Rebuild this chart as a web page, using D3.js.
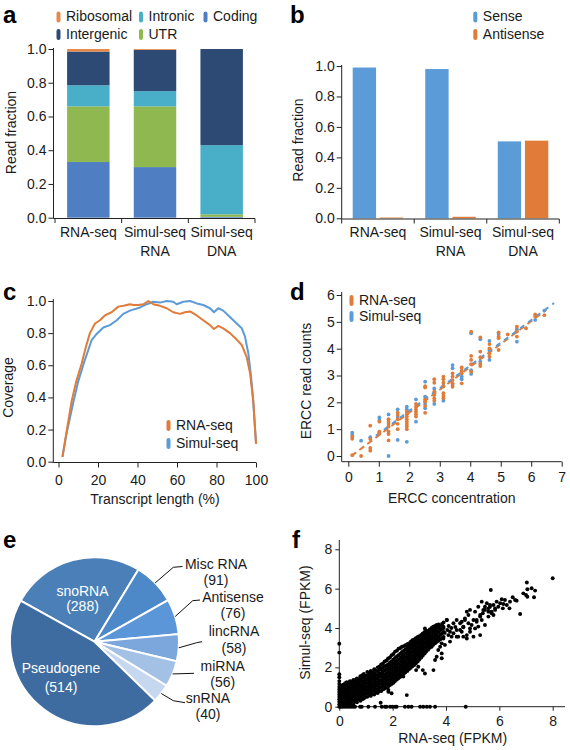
<!DOCTYPE html>
<html><head><meta charset="utf-8">
<script src="https://cdn.jsdelivr.net/npm/d3@7"></script>
<style>
body{margin:0;background:#fff}
svg{display:block}
text{font-family:"Liberation Sans",Arial,Helvetica,sans-serif;fill:#1a1a1a}
</style></head><body>
<svg id="c" width="570" height="750"></svg>
<script>
// ---------- DATA ----------
// panel a
const aCats=["RNA-seq","Simul-seq\nRNA","Simul-seq\nDNA"];
const aSeries=["Coding","UTR","Intronic","Intergenic","Ribosomal"];
const aCoding=[0.33,0.30,0.005];
const aUTR=[0.33,0.36,0.015];
const aIntronic=[0.125,0.09,0.41];
const aIntergenic=[0.20,0.245,0.57];
const aRibosomal=[0.015,0.005,0.0];
const aTicks=[0,0.2,0.4,0.6,0.8,1.0];
// panel b
const bCats=["RNA-seq","Simul-seq\nRNA","Simul-seq\nDNA"];
const bSeries=["Sense","Antisense"];
const bSense=[0.99,0.98,0.505];
const bAntisense=[0.005,0.01,0.51];
const bTicks=[0,0.2,0.4,0.6,0.8,1.0];
// panel c
const cRnaX=[2,4,6.7,9,11.7,14,15.9,18.5,21,23.5,26.9,30.3,33,36.2,38,40.4,43,45.5,48,51.4,54.8,58.1,61.5,64,66.6,70,73.3,76.7,78.7,80.9,83.4,86.8,90.2,92.8,95.3,97,98.6,100];
const cRnaY=[0.03,0.18,0.38,0.5,0.61,0.72,0.8,0.86,0.88,0.91,0.93,0.965,0.97,0.98,0.975,0.975,0.98,1.0,0.98,0.97,0.955,0.93,0.92,0.93,0.935,0.91,0.88,0.85,0.826,0.845,0.83,0.80,0.76,0.726,0.65,0.55,0.38,0.11];
const cSimX=[2,4,7.5,10,13,16.8,19.3,22.7,26,29.5,32.8,36.2,41.3,44.7,48,51.4,54.8,58.1,59.8,63.2,66.6,70,73.3,76.7,78.7,80.9,83.4,86.8,90.2,92.8,94.4,96.1,97.5,98.6,100];
const cSimY=[0.03,0.17,0.37,0.5,0.62,0.757,0.795,0.835,0.85,0.88,0.92,0.94,0.96,0.98,0.995,0.99,1.0,0.995,0.98,0.995,1.0,0.985,0.975,0.955,0.93,0.955,0.94,0.90,0.86,0.83,0.78,0.675,0.53,0.38,0.12];
const cXTicks=[0,20,40,60,80,100];
const cYTicks=[0,0.2,0.4,0.6,0.8,1.0];
// panel d
const dConc=[0.13,0.42,0.72,1.02,1.32,1.62,1.92,2.22,2.52,2.82,3.12,3.42,3.72,4.03,4.33,4.63,4.93,5.23,5.53,5.83,6.13,6.43];
const dRna=[[0.72,0.64,0.03],[0.0],[1.13,0.63,0.3,0.2],[1.28,0.91,0.84],[1.37,1.28,1.19,1.1,0.91,0.82,0.58],[1.62,1.53,1.37,1.2,1.0],[1.65,1.56,1.47,1.37,1.28,1.19,1.1,1.0],[1.94,1.84,1.74,1.65,1.56,1.47],[2.6,2.55,2.11,2.03,1.86,1.61],[2.86,2.73,2.4,2.27,2.15,2.06],[2.96,2.86,2.73,2.6,2.34,2.24,2.15],[3.08,2.96,2.83,2.71,2.58],[3.3,3.18,3.08,2.71],[4.63,3.73,3.58,3.42,3.14],[4.42,3.89,3.68,3.43,3.35],[4.17,4.01,3.83,3.7],[4.61,4.45,4.39,3.95],[4.53],[4.82,4.64,4.45],[4.76],[5.28,5.2],[5.25]];
const dSim=[[0.87,0.78],[0.57],[0.7],[1.44,1.34,0.87],[1.55,0.0],[1.74,1.45,0.6],[1.84,1.74,0.53],[2.11,1.28],[2.77,2.21,1.94,1.78],[2.52,1.94],[2.62,2.06],[3.39,3.27,2.65],[2.96,2.86],[4.57,3.2,3.06],[4.35,3.52],[4.29,3.95,3.58],[4.55],[],[4.72,4.26],[],[5.07],[5.42]];
const dFitRna=[[0.1,0.0],[6.5,5.45]];
const dFitSim=[[0.72,0.6],[6.75,5.7]];
const dXTicks=[0,1,2,3,4,5,6,7];
const dYTicks=[0,1,2,3,4,5,6];
// panel e
const eNames=["snoRNA","Misc RNA","Antisense","lincRNA","miRNA","snRNA","Pseudogene"];
const eValues=[288,91,76,58,56,40,514];
// panel f
const fCols=[
[0.00,[0.0,0.12,0.25,0.38,0.5,0.62,0.75,0.88,1.0,1.15,1.3,1.5,1.65,2.75,3.2]],
[0.06,[0.05,0.22,0.4,0.55,0.7,0.85,1.0]],
[0.15,[0.02,0.18,0.35,0.52,0.68,0.85,1.0,1.12]],
[0.28,[0.08,0.25,0.42,0.6,0.78,0.95,1.12,1.25]],
[0.40,[0.1,0.28,0.45,0.62,0.8,0.98,1.15,1.3]],
[0.53,[0.15,0.32,0.5,0.68,0.85,1.02,1.2,1.36]],
[0.66,[0.22,0.4,0.58,0.75,0.92,1.1,1.28,1.44]],
[0.79,[0.3,0.48,0.65,0.82,1.0,1.18,1.36,1.55]],
[0.92,[0.42,0.6,0.78,0.95,1.12,1.3,1.48,1.66]],
[1.05,[0.5,0.68,0.85,1.02,1.2,1.38,1.56,1.76]],
[1.18,[0.55,0.72,0.9,1.08,1.26,1.44,1.62,1.82]],
[1.31,[0.62,0.8,0.98,1.16,1.34,1.52,1.7,1.9]],
[1.44,[0.7,0.88,1.06,1.24,1.42,1.6,1.8,2.0]],
[1.57,[0.8,0.98,1.16,1.34,1.52,1.7,1.9,2.15]],
[1.70,[0.92,1.1,1.28,1.46,1.64,1.84,2.04,2.3]],
[1.83,[1.02,1.2,1.38,1.56,1.75,1.95,2.15,2.45]],
[1.96,[1.15,1.33,1.52,1.7,1.9,2.1,2.3,2.62]],
[2.09,[1.3,1.48,1.66,1.85,2.05,2.25,2.48,2.8]],
[2.22,[1.45,1.63,1.82,2.0,2.2,2.4,2.62,2.95]],
[2.35,[1.6,1.78,1.96,2.15,2.35,2.55,2.78,3.05]],
[2.48,[1.75,1.93,2.12,2.3,2.5,2.7,2.92,3.12]],
[2.61,[1.9,2.08,2.26,2.45,2.65,2.85,3.05,3.22]],
[2.74,[2.05,2.23,2.42,2.6,2.8,3.0,3.2,3.38]],
[2.87,[2.2,2.38,2.56,2.75,2.95,3.15,3.32,3.48]],
[3.00,[2.4,2.58,2.76,2.95,3.15,3.35,3.58]],
[3.13,[2.6,2.78,2.96,3.15,3.35,3.55,3.72]],
[3.26,[2.8,2.98,3.16,3.35,3.55,3.72,3.85]],
[3.39,[3.0,3.18,3.36,3.55,3.75,3.92]],
[3.52,[3.15,3.32,3.5,3.7,3.88,4.05]],
[3.65,[3.3,3.48,3.66,3.85,4.02,4.15]],
[3.78,[3.42,3.65,3.9,4.1]],
[3.91,[3.55,3.8,4.0,4.28]]];
const fCols2=[
[0.10,[0.1,0.28,0.45,0.62,0.78,0.95,1.08]],
[0.22,[0.05,0.22,0.4,0.56,0.72,0.9,1.05,1.2]],
[0.34,[0.18,0.35,0.52,0.7,0.88,1.05,1.22]],
[0.47,[0.2,0.38,0.56,0.74,0.92,1.1,1.28]],
[0.60,[0.28,0.45,0.62,0.8,0.98,1.15,1.35]],
[0.73,[0.35,0.52,0.7,0.88,1.05,1.22,1.4]],
[0.86,[0.38,0.56,0.74,0.9,1.08,1.26,1.45,1.6]],
[0.99,[0.5,0.68,0.86,1.04,1.22,1.4,1.58]],
[1.12,[0.6,0.78,0.96,1.14,1.32,1.5,1.7]],
[1.25,[0.65,0.84,1.02,1.2,1.38,1.56,1.75]],
[1.38,[0.72,0.9,1.08,1.26,1.44,1.62,1.82]],
[1.51,[0.8,0.98,1.16,1.34,1.52,1.7,1.9,2.05]],
[1.64,[0.88,1.06,1.24,1.42,1.6,1.8,2.0,2.2]],
[1.77,[0.98,1.16,1.34,1.52,1.7,1.9,2.1,2.35]],
[1.90,[1.1,1.28,1.46,1.64,1.84,2.04,2.25,2.5]],
[2.03,[1.22,1.4,1.58,1.78,1.98,2.18,2.4,2.68]],
[2.16,[1.38,1.56,1.74,1.94,2.14,2.34,2.56,2.85]],
[2.29,[1.52,1.7,1.88,2.08,2.28,2.48,2.7,2.98]],
[2.42,[1.68,1.86,2.04,2.24,2.44,2.64,2.85,3.08]],
[2.55,[1.82,2.0,2.18,2.38,2.58,2.78,2.98,3.18]],
[2.68,[1.98,2.16,2.34,2.54,2.74,2.94,3.12,3.3]],
[2.81,[2.12,2.3,2.48,2.68,2.88,3.08,3.26,3.42]],
[2.94,[2.3,2.48,2.66,2.86,3.06,3.26,3.45,3.55]],
[3.07,[2.5,2.68,2.86,3.06,3.26,3.46,3.65]],
[3.20,[2.7,2.88,3.06,3.26,3.46,3.64,3.8]],
[3.33,[2.9,3.08,3.26,3.46,3.66,3.85]],
[3.46,[3.08,3.25,3.44,3.62,3.82,4.0]],
[3.59,[3.22,3.4,3.58,3.78,3.96,4.1]],
[3.72,[3.35,3.55,3.78,4.0,4.18]],
[3.85,[3.5,3.72,3.95,4.2]]];
const fSparse=[[8.0,6.53],[7.03,6.31],[7.05,5.97],[7.21,6.02],[7.34,5.9],[6.9,5.76],[7.0,5.68],[7.05,5.59],[7.3,5.56],[6.78,4.71],[5.68,5.93],
[6.5,5.56],[6.59,5.42],[6.4,5.34],[6.65,5.39],[6.21,5.42],[6.09,5.46],[6.03,5.26],[6.15,5.22],[5.96,5.08],[5.84,5.0],[6.28,5.17],[6.38,5.0],[6.13,5.0],
[5.9,5.34],[5.78,5.17],[5.65,5.08],[5.84,4.92],[5.59,4.83],[5.46,4.92],[5.38,4.75],[5.59,4.58],[5.71,4.75],[5.28,4.58],[5.15,4.41],[5.34,4.41],[5.46,4.15],[5.21,4.07],[5.28,3.64],[5.09,3.98],[4.96,4.15],[4.84,4.24],[4.9,3.81],[4.65,4.07],[4.59,3.81],[4.71,4.41],[4.53,4.24],[4.4,3.9],[4.28,3.73],[4.46,3.56],[4.65,3.56],[4.78,3.47],[4.09,3.64],[4.03,4.41],[4.15,3.31],[4.21,3.56],[3.9,3.47],[3.84,3.22],[3.96,3.14],[3.78,3.05],[3.71,2.88],[3.84,2.71],[3.65,2.54],[3.21,3.98],[3.53,4.07],[3.46,3.05],[3.34,3.22],[3.59,2.37],[3.84,2.46],[3.53,1.86],[3.21,1.69],[3.13,1.86],[2.88,1.86],[2.96,2.03],[2.4,1.53],[2.53,0.59],[1.84,0.76],[1.55,0.2],[1.84,0.85],[1.96,0.68],
[5.34,5.34],[5.53,5.26],[5.65,5.17],[5.46,5.08],[5.59,5.0],[5.4,4.92],[5.71,4.83],[5.78,4.66],[5.28,4.66],[5.09,4.83],[5.21,5.08],[4.9,4.92],[4.78,4.83],[4.84,4.66],[4.71,4.49],[5.03,4.41],[5.15,4.32],[4.59,4.32],[4.4,4.41],[4.28,4.24],[4.03,4.41],[4.65,4.04],[4.53,3.9],[4.9,3.98],[5.03,3.56],[4.78,3.64],[4.4,3.56],[3.9,4.07],[3.78,3.9],[4.15,3.81],[4.1,4.1],[4.2,4.0],[4.35,4.05],[3.95,3.75],[4.05,3.9]];
const fZeroX=[0.05,0.12,0.2,0.28,0.36,0.44,0.52,0.59,0.78,0.84,1.09,1.34,1.59,1.71,1.77,1.9,1.99,2.09,2.15,2.46,2.59,2.71,3.03,3.15,3.28,3.4,3.59,4.74];
const fTicks=[0,2,4,6,8];

// ---------- STYLE ----------
const FS=14;
const INK="#1a1a1a";
const aColors={Coding:"#4f7fc2",UTR:"#8fb850",Intronic:"#49aec8",Intergenic:"#2c4a73",Ribosomal:"#e8894b"};
const bColors={Sense:"#5b9bd8",Antisense:"#e07b39"};
const ORANGE="#e07b39", BLUE="#5b9bd8";
const eColors=["#4a7fb8","#4d88c9","#5b97d8","#7ca7dc","#a3c0e5","#c6d8ef","#3e6ca1"];

const svg=d3.select("#c");
function letter(t,x,y){svg.append("text").attr("x",x).attr("y",y).attr("font-size",24).attr("font-weight","bold").style("fill","#000").text(t);}
function yTitle(t,x,cy){svg.append("text").attr("transform",`translate(${x},${cy}) rotate(-90)`).attr("text-anchor","middle").attr("font-size",FS).text(t);}
function xTitle(t,cx,y){svg.append("text").attr("x",cx).attr("y",y).attr("text-anchor","middle").attr("font-size",FS).text(t);}
function line(x1,y1,x2,y2){svg.append("line").attr("x1",x1).attr("y1",y1).attr("x2",x2).attr("y2",y2).attr("stroke","#222").attr("stroke-width",1);}
function styleAxis(g){g.attr("font-size",FS).attr("font-family",null).attr("color","#222");g.select(".domain").remove();g.selectAll(".tick text").style("fill",INK);}
function yAxis(scale,x,ticks,fmt){const g=svg.append("g").attr("transform",`translate(${x},0)`).call(d3.axisLeft(scale).tickValues(ticks).tickFormat(fmt).tickSize(5).tickPadding(2));styleAxis(g);return g;}
function xAxis(scale,y,ticks,fmt,ts,tp){const g=svg.append("g").attr("transform",`translate(0,${y})`).call(d3.axisBottom(scale).tickValues(ticks).tickFormat(fmt).tickSize(ts).tickPadding(tp));styleAxis(g);return g;}
function legendItem(x,y,color,label){
  svg.append("rect").attr("x",x).attr("y",y).attr("width",4).attr("height",11).attr("rx",2).attr("fill",color);
  svg.append("text").attr("x",x+9.5).attr("y",y+9.5).attr("font-size",FS).text(label);
}
function catLabels(scale,cats,y){
  cats.forEach(c=>{
    const lines=c.split("\n");
    const t=svg.append("text").attr("text-anchor","middle").attr("font-size",FS);
    lines.forEach((l,i)=>t.append("tspan").attr("x",scale(c)+scale.bandwidth()/2).attr("y",y+i*19.5).text(l));
  });
}
const f1=d3.format(".1f");

// ---------- PANEL A ----------
letter("a",3,23);
const aX=d3.scaleBand().domain(aCats).range([55,255]).padding(0);
const aY=d3.scaleLinear().domain([0,1]).range([217.7,49]);
const aRows=aCats.map((c,i)=>({cat:c,Coding:aCoding[i],UTR:aUTR[i],Intronic:aIntronic[i],Intergenic:aIntergenic[i],Ribosomal:aRibosomal[i]}));
const aStack=d3.stack().keys(aSeries)(aRows);
const aBW=aX.bandwidth()*0.637;
svg.append("g").selectAll("g").data(aStack).join("g").attr("fill",d=>aColors[d.key])
  .selectAll("rect").data(d=>d).join("rect")
  .attr("x",d=>aX(d.data.cat)+(aX.bandwidth()-aBW)/2).attr("width",aBW)
  .attr("y",d=>aY(d[1])).attr("height",d=>Math.max(0,aY(d[0])-aY(d[1])));
yAxis(aY,53.5,aTicks,f1);
line(53.5,aY(1)-1,53.5,218.5);
line(53.5,218.5,aX.range()[1],218.5);
aCats.concat([null]).forEach(c=>{const x=c?aX(c):aX.range()[1];line(x,218.5,x,223);});
catLabels(aX,aCats,236.5);
yTitle("Read fraction",15.5,132.5);
legendItem(56.5,11.5,aColors.Ribosomal,"Ribosomal");
legendItem(139,11.5,aColors.Intronic,"Intronic");
legendItem(203.5,11.5,aColors.Coding,"Coding");
legendItem(56.5,29,aColors.Intergenic,"Intergenic");
legendItem(139,29,aColors.UTR,"UTR");

// ---------- PANEL B ----------
letter("b",290,23);
const bX=d3.scaleBand().domain(bCats).range([341.7,559.3]).padding(0);
const bInner=d3.scaleBand().domain(bSeries).range([11,bX.bandwidth()-11]).paddingInner(0.14);
const bY=d3.scaleLinear().domain([0,1]).range([218.3,66]);
const bRows=bCats.map((c,i)=>({cat:c,Sense:bSense[i],Antisense:bAntisense[i]}));
svg.append("g").selectAll("g").data(bRows).join("g").attr("transform",d=>`translate(${bX(d.cat)},0)`)
  .selectAll("rect").data(d=>bSeries.map(k=>({k,v:d[k]}))).join("rect")
  .attr("x",d=>bInner(d.k)).attr("width",bInner.bandwidth())
  .attr("y",d=>bY(d.v)).attr("height",d=>bY(0)-bY(d.v)).attr("fill",d=>bColors[d.k]);
yAxis(bY,341.7,bTicks,f1);
line(341.7,bY(1)-1,341.7,219);
line(341.7,219,bX.range()[1],219);
bCats.concat([null]).forEach(c=>{const x=c?bX(c):bX.range()[1];line(x,219,x,223.5);});
catLabels(bX,bCats,236.5);
yTitle("Read fraction",303,140);
legendItem(473.3,11.5,bColors.Sense,"Sense");
legendItem(473.3,29,bColors.Antisense,"Antisense");

// ---------- PANEL C ----------
letter("c",3,300);
const cX=d3.scaleLinear().domain([0,100]).range([58.5,256]);
const cY=d3.scaleLinear().domain([0,1]).range([461.7,301]);
yAxis(cY,53.3,cYTicks,f1);
xAxis(cX,462.5,cXTicks,d3.format("d"),5,7.5);
line(53.3,299,53.3,462.5);
line(53.3,462.5,256,462.5);
const cLine=d3.line().x(d=>cX(d[0])).y(d=>cY(d[1])).curve(d3.curveLinear);
svg.append("path").datum(cSimX.map((x,i)=>[x,cSimY[i]])).attr("d",cLine).attr("fill","none").attr("stroke",BLUE).attr("stroke-width",2).attr("stroke-linejoin","round");
svg.append("path").datum(cRnaX.map((x,i)=>[x,cRnaY[i]])).attr("d",cLine).attr("fill","none").attr("stroke",ORANGE).attr("stroke-width",2).attr("stroke-linejoin","round");
yTitle("Coverage",13,387.5);
xTitle("Transcript length (%)",155,503.5);
legendItem(166.5,420,ORANGE,"RNA-seq");
legendItem(166.5,438,BLUE,"Simul-seq");

// ---------- PANEL D ----------
letter("d",290,300);
const dX=d3.scaleLinear().domain([0,7]).range([348.3,561.7]);
const dY=d3.scaleLinear().domain([0,6]).range([456,295]);
yAxis(dY,341.7,dYTicks,d3.format("d"));
xAxis(dX,461.7,dXTicks,d3.format("d"),5,5.5);
line(341.7,292,341.7,461.7);
line(341.7,461.7,561.7,461.7);
const dLine=d3.line().x(d=>dX(d[0])).y(d=>dY(d[1]));
svg.append("path").datum(dFitRna).attr("d",dLine).attr("stroke",ORANGE).attr("stroke-width",2).attr("stroke-dasharray","6,4").attr("fill","none");
svg.append("path").datum(dFitSim).attr("d",dLine).attr("stroke",BLUE).attr("stroke-width",2).attr("stroke-dasharray","5,5").attr("stroke-dashoffset",3).attr("fill","none");
const dSimPts=[];dSim.forEach((ys,i)=>ys.forEach(y=>dSimPts.push([dConc[i],y])));
const dRnaPts=[];dRna.forEach((ys,i)=>ys.forEach(y=>dRnaPts.push([dConc[i],y])));
svg.append("g").selectAll("circle").data(dSimPts).join("circle").attr("cx",d=>dX(d[0])).attr("cy",d=>dY(d[1])).attr("r",1.9).attr("fill",BLUE);
svg.append("g").selectAll("circle").data(dRnaPts).join("circle").attr("cx",d=>dX(d[0])).attr("cy",d=>dY(d[1])).attr("r",1.9).attr("fill",ORANGE);
yTitle("ERCC read counts",311,381);
xTitle("ERCC concentration",451.7,503);
legendItem(349.5,295,ORANGE,"RNA-seq");
legendItem(349.5,311,BLUE,"Simul-seq");

// ---------- PANEL E ----------
letter("e",3,548);
const eCx=94.5, eCy=641.7, eR=84.5;
const pie=d3.pie().sort(null).value(d=>d).startAngle(-61*Math.PI/180).endAngle(-61*Math.PI/180+2*Math.PI);
const eArcs=pie(eValues);
const arc=d3.arc().innerRadius(0).outerRadius(eR);
const eG=svg.append("g").attr("transform",`translate(${eCx},${eCy})`);
eG.selectAll("path").data(eArcs).join("path").attr("d",arc).attr("fill",(d,i)=>eColors[i]).attr("stroke","#fff").attr("stroke-width",2);
const innerPos={"snoRNA":[82.5,596,611],"Pseudogene":[61,673,692]};
Object.entries(innerPos).forEach(([n,p])=>{
  const i=eNames.indexOf(n);
  svg.append("text").attr("x",p[0]).attr("y",p[1]).attr("text-anchor","middle").attr("font-size",FS).style("fill","#fff").text(n);
  svg.append("text").attr("x",p[0]).attr("y",p[2]).attr("text-anchor","middle").attr("font-size",FS).style("fill","#fff").text(`(${eValues[i]})`);
});
const outerPos={
 "Misc RNA":{x:216,y1:569,y2:584.5,pts:[[173.3,567.3],[182.5,566.5]]},
 "Antisense":{x:233,y1:601.5,y2:618,pts:[[192.7,600.7],[200,600]]},
 "lincRNA":{x:234,y1:636,y2:652.5,pts:[[196.7,642.7],[202,641.7]]},
 "miRNA":{x:222.7,y1:670.5,y2:686.5,pts:[[194,673.3]]},
 "snRNA":{x:208,y1:703.3,y2:718.5,pts:[[173.3,700.7],[185,702.7]]}
};
Object.entries(outerPos).forEach(([n,p])=>{
  const i=eNames.indexOf(n);const a=eArcs[i];
  const mid=(a.startAngle+a.endAngle)/2;
  const s=[eCx+Math.sin(mid)*eR,eCy-Math.cos(mid)*eR];
  svg.append("path").attr("d",d3.line()([s].concat(p.pts))).attr("fill","none").attr("stroke","#111").attr("stroke-width",1);
  svg.append("text").attr("x",p.x).attr("y",p.y1).attr("text-anchor","middle").attr("font-size",FS).text(n);
  svg.append("text").attr("x",p.x).attr("y",p.y2).attr("text-anchor","middle").attr("font-size",FS).text(`(${eValues[i]})`);
});

// ---------- PANEL F ----------
letter("f",292,548);
const fX=d3.scaleLinear().domain([0,8]).range([339.3,552.7]);
const fY=d3.scaleLinear().domain([0,8]).range([706.7,549.3]);
yAxis(fY,339.3,fTicks,d3.format("d")).selectAll(".tick line").attr("x2",-4);
xAxis(fX,706.7,fTicks,d3.format("d"),4,5.5);
line(339.3,540,339.3,706.7);
line(339.3,706.7,565,706.7);
const fPts=[];
fCols.forEach(([x,ys])=>ys.forEach(y=>fPts.push([x,y])));
fCols2.forEach(([x,ys])=>ys.forEach(y=>fPts.push([x,y])));
fSparse.forEach(p=>fPts.push(p));
fZeroX.forEach(x=>fPts.push([x,0]));
svg.append("g").selectAll("circle").data(fPts).join("circle").attr("cx",d=>fX(d[0])).attr("cy",d=>fY(d[1])).attr("r",1.95).attr("fill","#000");
yTitle("Simul-seq (FPKM)",310,622.5);
xTitle("RNA-seq (FPKM)",452.7,743);
</script>
</body></html>
